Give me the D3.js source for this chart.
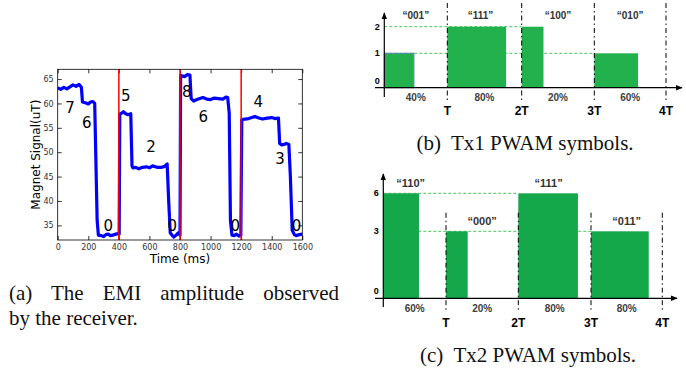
<!DOCTYPE html>
<html>
<head>
<meta charset="utf-8">
<script src="https://cdn.jsdelivr.net/npm/d3@7"></script>
<style>
  body { margin: 0; background: #fff; }
  svg { display: block; }
</style>
</head>
<body>
<svg id="fig" width="686" height="379"></svg>
<script>
// (a) EMI amplitude at the receiver: [time ms, uT]
const signalTrace = [
  [0, 63.2], [20, 62.9], [40, 63.3], [60, 63.0], [80, 63.4], [100, 63.8], [120, 63.5], [140, 63.9], [155, 63.3],
  [162, 60.3], [185, 60.1], [200, 59.9], [215, 60.3], [230, 60.4], [242, 60.0], [252, 45], [258, 36], [266, 33],
  [285, 32.9], [300, 32.7], [315, 33.1], [330, 33.2], [345, 32.9], [360, 33.0], [380, 33.2], [395, 33.3], [402, 33.2],
  [406, 57.8], [418, 58.0], [430, 58.3], [445, 57.9], [460, 57.7], [478, 57.9],
  [486, 47.2], [492, 46.8], [510, 46.9], [530, 46.6], [555, 46.9], [580, 47.0], [600, 46.8], [620, 47.2],
  [650, 46.9], [680, 46.9], [700, 47.1], [716, 47.6],
  [726, 40], [736, 33.5], [750, 32.9], [760, 32.6], [775, 33.0], [790, 33.5], [800, 33.0],
  [804, 65.8], [818, 65.6], [830, 65.5], [848, 65.9], [865, 65.8],
  [873, 61.0], [890, 60.5], [910, 60.8], [930, 61.0], [950, 61.2], [975, 60.9], [1000, 60.8], [1025, 61.1],
  [1050, 61.0], [1080, 60.9], [1100, 61.3], [1112, 61.2],
  [1122, 58], [1130, 36], [1140, 33], [1155, 32.9], [1170, 33.2], [1185, 32.8], [1198, 33.0],
  [1204, 56.7], [1225, 56.8], [1250, 56.9], [1270, 57.1], [1290, 57.3], [1315, 57.0], [1340, 56.8],
  [1370, 57.0], [1400, 57.1], [1420, 56.9], [1444, 57.0],
  [1452, 51.8], [1465, 51.5], [1480, 51.6], [1495, 51.8], [1512, 51.6], [1522, 45], [1534, 34],
  [1548, 33.1], [1560, 32.9], [1580, 33.1], [1600, 33.2]
];
const slotBoundaries = [400, 800, 1200];
const levelNames = ['7', '6', '0', '5', '2', '0', '8', '6', '0', '4', '3', '0'];
const levelNameTimes = [80, 190, 331, 445, 610, 750, 844, 953, 1162, 1312, 1454, 1563];
const levelNameValues = [59.1, 56.0, 35, 61.7, 51.1, 35, 62.4, 57.4, 35, 60.4, 48.7, 35];
const timeTicks = [0, 200, 400, 600, 800, 1000, 1200, 1400, 1600];
const signalTicks = [35, 40, 45, 50, 55, 60, 65];

// (b) Tx1 PWAM symbols
const tx1Codes = ['\u201c001\u201d', '\u201c111\u201d', '\u201c100\u201d', '\u201c010\u201d'];
const tx1Levels = [1, 2, 2, 1];
const tx1Widths = [0.47, 0.79, 0.30, 0.61];   // drawn pulse width, fraction of T
const tx1Duty = ['40%', '80%', '20%', '60%'];
const tx1LevelTicks = [0, 1, 2];

// (c) Tx2 PWAM symbols
const tx2Codes = ['\u201c110\u201d', '\u201c000\u201d', '\u201c111\u201d', '\u201c011\u201d'];
const tx2Levels = [6, 3, 6, 3];
const tx2Widths = [0.57, 0.30, 0.82, 0.81];
const tx2Duty = ['60%', '20%', '80%', '80%'];
const tx2LevelTicks = [0, 3, 6];

const periodNames = ['T', '2T', '3T', '4T'];
const periodTicks = [1, 2, 3, 4];

const svg = d3.select('#fig');
svg.append('rect').attr('width', 686).attr('height', 379).attr('fill', '#fff');

const defs = svg.append('defs');
defs.append('marker')
    .attr('id', 'arrow')
    .attr('viewBox', '0 0 10 10')
    .attr('refX', 9).attr('refY', 5)
    .attr('markerWidth', 6).attr('markerHeight', 6)
    .attr('orient', 'auto')
  .append('path')
    .attr('d', 'M0,1 L10,5 L0,9 Z')
    .attr('fill', '#000');

/* ---------- (a) signal plot ---------- */
function drawSignal() {
  const x = d3.scaleLinear().domain([0, 1600]).range([57.7, 302.3]);
  const y = d3.scaleLinear().domain([32, 67]).range([240, 69.3]);
  const g = svg.append('g');

  defs.append('clipPath').attr('id', 'plotClip')
    .append('rect')
      .attr('x', x(0)).attr('y', y(67))
      .attr('width', x(1600) - x(0)).attr('height', y(32) - y(67));

  const fontAxis = 'DejaVu Sans, sans-serif';
  const styleAxis = sel => {
    sel.select('.domain').remove();
    sel.selectAll('line').attr('stroke', '#000').attr('stroke-width', 0.8);
    sel.selectAll('text').attr('font-family', fontAxis).attr('font-size', 8).attr('fill', '#333');
  };

  g.append('g').attr('transform', `translate(0,${y(32)})`)
    .call(d3.axisBottom(x).tickValues(timeTicks).tickFormat(d3.format('d')).tickSize(-4).tickPadding(4))
    .call(styleAxis);
  g.append('g').attr('transform', `translate(0,${y(67)})`)
    .call(d3.axisTop(x).tickValues(timeTicks).tickSize(-4).tickFormat(''))
    .call(styleAxis);
  g.append('g').attr('transform', `translate(${x(0)},0)`)
    .call(d3.axisLeft(y).tickValues(signalTicks).tickSize(-4).tickPadding(4))
    .call(styleAxis);
  g.append('g').attr('transform', `translate(${x(1600)},0)`)
    .call(d3.axisRight(y).tickValues(signalTicks).tickSize(-4).tickFormat(''))
    .call(styleAxis);

  const line = d3.line().x(d => x(d[0])).y(d => y(d[1]));
  g.append('path')
    .datum(signalTrace)
    .attr('clip-path', 'url(#plotClip)')
    .attr('d', line)
    .attr('fill', 'none')
    .attr('stroke', '#0000ff')
    .attr('stroke-width', 3.2)
    .attr('stroke-linejoin', 'round');

  g.selectAll('.slot')
    .data(slotBoundaries)
    .enter().append('line')
      .attr('class', 'slot')
      .attr('x1', d => x(d)).attr('x2', d => x(d))
      .attr('y1', y(67)).attr('y2', y(32))
      .attr('stroke', '#ff0000')
      .attr('stroke-width', 1.5);

  g.append('rect')
    .attr('x', x(0)).attr('y', y(67))
    .attr('width', x(1600) - x(0)).attr('height', y(32) - y(67))
    .attr('fill', 'none').attr('stroke', '#000').attr('stroke-width', 0.8);

  g.selectAll('.lvl')
    .data(levelNames)
    .enter().append('text')
      .attr('class', 'lvl')
      .attr('x', (d, i) => x(levelNameTimes[i]))
      .attr('y', (d, i) => y(levelNameValues[i]))
      .attr('dy', '0.36em')
      .attr('text-anchor', 'middle')
      .attr('font-family', fontAxis)
      .attr('font-size', 15)
      .attr('fill', '#000')
      .text(d => d);

  g.append('text')
    .attr('x', (x(0) + x(1600)) / 2).attr('y', 263)
    .attr('text-anchor', 'middle')
    .attr('font-family', fontAxis).attr('font-size', 12)
    .text('Time (ms)');
  g.append('text')
    .attr('transform', `translate(36,${(y(32) + y(67)) / 2}) rotate(-90)`)
    .attr('dy', '0.35em')
    .attr('text-anchor', 'middle')
    .attr('font-family', fontAxis).attr('font-size', 12)
    .text('Magnet Signal(uT)');
}

/* ---------- (b), (c) PWAM symbol sketches ---------- */
function drawSymbols(cfg) {
  const x = d3.scaleLinear().domain([0, 1, 2, 3, 4]).range(cfg.xRange);
  const y = d3.scaleLinear().domain(cfg.levelTicks).range(cfg.yRange);
  const g = svg.append('g');
  const font = 'Liberation Sans, Arial, sans-serif';
  const n = cfg.levels.length;

  // dashed level guides, running under the pulses
  const guides = d3.rollups(d3.range(n), v => d3.max(v), i => cfg.levels[i]);
  g.selectAll('.guide')
    .data(guides)
    .enter().append('line')
      .attr('class', 'guide')
      .attr('x1', x(0)).attr('x2', d => x(d[1]))
      .attr('y1', d => y(d[0])).attr('y2', d => y(d[0]))
      .attr('stroke', cfg.guideColor)
      .attr('stroke-width', 1)
      .attr('stroke-dasharray', '3,2');

  g.selectAll('.pulse')
    .data(cfg.levels)
    .enter().append('rect')
      .attr('class', 'pulse')
      .attr('x', (d, i) => x(i))
      .attr('y', d => y(d))
      .attr('width', (d, i) => x(i + cfg.widths[i]) - x(i))
      .attr('height', d => y(0) - y(d))
      .attr('fill', cfg.fill)
      .attr('stroke', (d, i) => cfg.outline[i] || 'none')
      .attr('stroke-width', 1);

  g.selectAll('.period')
    .data(periodTicks)
    .enter().append('line')
      .attr('class', 'period')
      .attr('x1', d => x(d)).attr('x2', d => x(d))
      .attr('y1', cfg.periodTop).attr('y2', cfg.periodBottom)
      .attr('stroke', '#000')
      .attr('stroke-width', 1)
      .attr('stroke-dasharray', '5,3,1.5,3');

  // axes with arrow heads
  g.append('line')
    .attr('x1', cfg.axisLeft).attr('x2', cfg.axisRight)
    .attr('y1', y(0)).attr('y2', y(0))
    .attr('stroke', '#000').attr('stroke-width', 1.2)
    .attr('marker-end', 'url(#arrow)');
  g.append('line')
    .attr('x1', x(0)).attr('x2', x(0))
    .attr('y1', cfg.axisBottom).attr('y2', cfg.axisTop)
    .attr('stroke', '#000').attr('stroke-width', 1.2)
    .attr('marker-end', 'url(#arrow)');

  g.selectAll('.ytick')
    .data(cfg.levelTicks)
    .enter().append('text')
      .attr('class', 'ytick')
      .attr('x', x(0) - 7)
      .attr('y', d => d === 0 ? y(0) - 7 : y(d))
      .attr('dy', '0.35em')
      .attr('text-anchor', 'middle')
      .attr('font-family', font).attr('font-weight', 'bold').attr('font-size', 9)
      .text(d => d);

  const mid = i => (x(i) + x(i + 1)) / 2;

  g.selectAll('.code')
    .data(cfg.codes)
    .enter().append('text')
      .attr('class', 'code')
      .attr('x', (d, i) => mid(i) + cfg.codeShift[i])
      .attr('y', (d, i) => cfg.codeRow !== null ? cfg.codeRow : y(cfg.levels[i]) - 10)
      .attr('dy', '0.35em')
      .attr('text-anchor', 'middle')
      .attr('font-family', font).attr('font-weight', 'bold').attr('font-size', cfg.codeSize)
      .attr('fill', '#333')
      .text(d => d);

  g.selectAll('.duty')
    .data(cfg.duty)
    .enter().append('text')
      .attr('class', 'duty')
      .attr('x', (d, i) => mid(i))
      .attr('y', y(0) + cfg.dutyGap)
      .attr('dy', '0.35em')
      .attr('text-anchor', 'middle')
      .attr('font-family', font).attr('font-weight', 'bold').attr('font-size', 10)
      .attr('fill', '#404040')
      .text(d => d);

  g.selectAll('.pname')
    .data(periodNames)
    .enter().append('text')
      .attr('class', 'pname')
      .attr('x', (d, i) => x(periodTicks[i]))
      .attr('y', y(0) + cfg.periodGap)
      .attr('dy', '0.35em')
      .attr('text-anchor', 'middle')
      .attr('font-family', font).attr('font-weight', 'bold').attr('font-size', 12)
      .attr('fill', '#000')
      .text(d => d);
}

/* ---------- captions ---------- */
function caption(text, xPos, yPos, anchor, justifyTo) {
  const t = svg.append('text')
    .attr('x', xPos).attr('y', yPos)
    .attr('text-anchor', anchor)
    .attr('font-family', 'Liberation Serif, DejaVu Serif, serif')
    .attr('font-size', 21)
    .attr('fill', '#111')
    .attr('xml:space', 'preserve')
    .text(text);
  if (justifyTo) {
    const natural = t.node().getComputedTextLength();
    const gaps = text.split(' ').length - 1;
    t.attr('word-spacing', (justifyTo - natural) / gaps);
  }
  return t;
}

drawSignal();

drawSymbols({
  levels: tx1Levels, widths: tx1Widths, codes: tx1Codes, duty: tx1Duty,
  levelTicks: tx1LevelTicks,
  xRange: [384.3, 447.3, 521.7, 594.3, 666],
  yRange: [87.7, 53.3, 26.7],
  fill: '#22b14c', guideColor: '#4cc25c',
  outline: ['#5a7fb8', null, null, null],
  axisLeft: 375, axisRight: 682, axisBottom: 97, axisTop: 13,
  periodTop: 3, periodBottom: 103,
  codeRow: 15, codeShift: [0, -4, 0, 0], codeSize: 10,
  dutyGap: 10, periodGap: 23
});

drawSymbols({
  levels: tx2Levels, widths: tx2Widths, codes: tx2Codes, duty: tx2Duty,
  levelTicks: tx2LevelTicks,
  xRange: [383.3, 446, 518.3, 591, 662.3],
  yRange: [298.3, 231.3, 193.3],
  fill: '#14a84a', guideColor: '#4cc25c',
  outline: [null, null, null, null],
  axisLeft: 375, axisRight: 677, axisBottom: 307, axisTop: 174,
  periodTop: 212.7, periodBottom: 310,
  codeRow: null, codeShift: [-4, 0, -6, 0], codeSize: 11,
  dutyGap: 10, periodGap: 24
});

caption('(a) The EMI amplitude observed', 9, 300, 'start', 330);
caption('by the receiver.', 9, 325, 'start', null);
caption('(b)  Tx1 PWAM symbols.', 525, 150, 'middle', null);
caption('(c)  Tx2 PWAM symbols.', 528, 362, 'middle', null);
</script>
</body>
</html>
